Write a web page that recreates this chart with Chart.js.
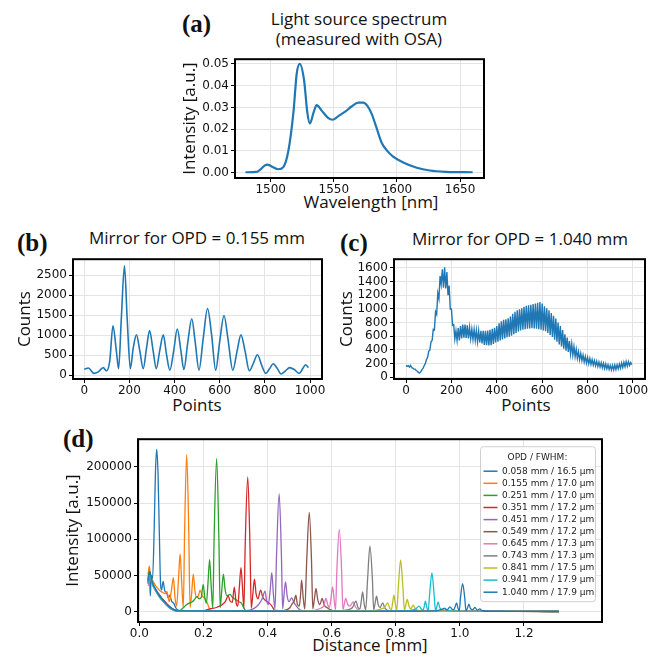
<!DOCTYPE html>
<html>
<head>
<meta charset="utf-8">
<script src="https://cdn.jsdelivr.net/npm/chart.js@4.4.0/dist/chart.umd.min.js"></script>
<style>
  body { margin: 0; background: #fff; width: 662px; height: 657px; position: relative; overflow: hidden; }
  canvas { position: absolute; }
  .tag { position: absolute; font: bold 25px "Liberation Serif"; line-height: 25px; color: #111; }
  .ttl { position: absolute; font: 17px "Open Sans"; line-height: 19.5px; color: #111; text-align: center; white-space: nowrap; }
</style>
</head>
<body>
<div class="tag" style="left:182px;top:11px">(a)</div>
<div class="ttl" style="left:259px;top:9px;width:200px">Light source spectrum<br>(measured with OSA)</div>
<div class="ttl" style="left:271px;top:192px;width:200px">Wavelength [nm]</div>

<div class="tag" style="left:17px;top:230px">(b)</div>
<div class="ttl" style="left:77px;top:228px;width:240px">Mirror for OPD = 0.155 mm</div>
<div class="ttl" style="left:147px;top:395px;width:100px">Points</div>

<div class="tag" style="left:340px;top:230px">(c)</div>
<div class="ttl" style="left:400px;top:229px;width:240px">Mirror for OPD = 1.040 mm</div>
<div class="ttl" style="left:476px;top:395px;width:100px">Points</div>

<div class="tag" style="left:63px;top:426px">(d)</div>
<div class="ttl" style="left:290px;top:635px;width:160px">Distance [mm]</div>

<canvas id="spec" width="340" height="170" style="left:150px;top:50px"></canvas>
<canvas id="mirrorB" width="330" height="170" style="left:0px;top:250px"></canvas>
<canvas id="mirrorC" width="325" height="170" style="left:330px;top:250px"></canvas>
<canvas id="fft" width="562" height="227" style="left:50px;top:430px"></canvas>

<script>
// (a) OSA spectrum
const wavelengthNm = [1480, 1489, 1497, 1506, 1510, 1514, 1518, 1520.6, 1523, 1526.4, 1529, 1531, 1534, 1536.4, 1540.4, 1545.7, 1549, 1553.6, 1559, 1564, 1569.4, 1573.4, 1576.6, 1580, 1584, 1588, 1592, 1597, 1605, 1615.7, 1626, 1639, 1660];
const osaIntensity = [0.0001, 0.0003, 0.0036, 0.0015, 0.0025, 0.010, 0.0277, 0.0455, 0.0500, 0.0426, 0.0277, 0.0226, 0.0277, 0.0310, 0.0285, 0.0250, 0.0243, 0.0260, 0.0280, 0.0304, 0.0322, 0.0322, 0.0307, 0.0270, 0.0203, 0.0136, 0.0102, 0.0073, 0.0046, 0.0022, 0.0009, 0.0003, 0.0001];
const specXTicks = [1500, 1550, 1600, 1650];
const specYTicks = [0, 0.01, 0.02, 0.03, 0.04, 0.05];

// (b) detector trace, OPD 0.155 mm
const bPoints = [0, 18, 43, 62, 84, 98, 113, 127, 142, 152, 164, 178, 190, 204, 217, 231, 246, 261, 276, 289, 305, 319, 334, 350, 364, 379, 396, 412, 428, 441, 459, 476, 491, 508, 527, 546, 564, 582, 600, 619, 636, 658, 677, 694, 712, 731, 748, 767, 786, 804, 821, 837, 855, 872, 891, 910, 930, 952, 968, 980, 993];
const bCounts = [145, 177, 40, 80, 185, 105, 363, 1233, 605, 160, 1410, 2740, 1410, 160, 685, 1007, 605, 160, 685, 1112, 605, 160, 605, 1007, 524, 121, 605, 1153, 605, 137, 846, 1410, 846, 121, 927, 1668, 1007, 121, 846, 1491, 927, 121, 605, 1007, 605, 105, 282, 508, 242, 40, 161, 282, 161, 24, 105, 185, 137, 40, 161, 258, 185];
const pointTicks = [0, 200, 400, 600, 800, 1000];
const bYTicks = [0, 500, 1000, 1500, 2000, 2500];

// (c) detector trace, OPD 1.040 mm, one sample every 5 points
const cStep = 5;
const cCounts = [
  175, 160, 170, 150, 175, 140, 135, 120, 120, 100, 90, 70, 65, 80, 110, 135, 170, 200, 260, 290,
  380, 400, 520, 540, 700, 690, 960, 920, 1230, 1150, 1480, 1360, 1580, 1310, 1610, 1300, 1540, 1200, 1340, 1000,
  1000, 760, 770, 560, 680, 540, 720, 540, 750, 570, 770, 580, 770, 575, 760, 570, 730, 565, 705, 555,
  700, 540, 690, 520, 680, 510, 680, 495, 680, 475, 680, 470, 685, 468, 695, 470, 710, 490, 725, 510,
  750, 520, 790, 540, 820, 555, 840, 570, 850, 585, 865, 595, 890, 610, 930, 630, 960, 650, 980, 670,
  995, 685, 1010, 695, 1030, 705, 1045, 710, 1055, 715, 1060, 720, 1070, 715, 1080, 710, 1090, 705, 1100, 695,
  1080, 685, 1040, 675, 1010, 650, 980, 620, 940, 590, 900, 550, 860, 520, 800, 480, 750, 450, 690, 420,
  630, 390, 580, 370, 530, 345, 490, 325, 450, 305, 410, 280, 375, 260, 350, 245, 325, 225, 305, 210,
  290, 200, 275, 190, 260, 180, 245, 170, 235, 160, 225, 150, 215, 140, 205, 130, 195, 125, 185, 115,
  175, 110, 175, 110, 180, 115, 185, 125, 195, 135, 210, 145, 220, 155, 230, 165, 230, 175, 215, 185
];
const cYTicks = [0, 200, 400, 600, 800, 1000, 1200, 1400, 1600];

// (d) FFT of each mirror position: [distance mm, intensity]
const trace058 = [[0.027,40000],[0.029,57000],[0.032,47000],[0.034,22000],[0.037,50000],[0.041,46000],[0.046,112000],[0.050,192000],[0.054,224000],[0.058,192000],[0.062,112000],[0.066,38000],[0.069,30000],[0.074,42000],[0.079,29000],[0.085,26000],[0.090,19000],[0.095,23000],[0.100,15000],[0.107,12000],[0.113,6000],[0.120,2500],[0.135,1200],[0.2,900],[0.35,700],[0.5,800],[0.7,600],[0.9,700],[1.1,600],[1.309,500]];
const trace155 = [[0.027,52000],[0.031,63000],[0.035,47000],[0.040,44000],[0.048,38000],[0.056,33000],[0.064,29000],[0.072,27000],[0.080,25000],[0.086,28000],[0.093,14000],[0.100,30000],[0.106,47000],[0.111,20000],[0.116,8000],[0.122,45000],[0.127,80000],[0.132,40000],[0.137,6000],[0.141,110000],[0.1475,217000],[0.154,110000],[0.158,6000],[0.163,25000],[0.168,52000],[0.173,30000],[0.178,20000],[0.184,22000],[0.189,30000],[0.196,22000],[0.205,18000],[0.212,12000],[0.218,5000],[0.225,1500],[0.3,900],[0.5,700],[0.7,800],[0.9,600],[1.1,700],[1.309,500]];
const trace251 = [[0.027,45000],[0.032,56000],[0.038,43000],[0.046,34000],[0.055,27000],[0.065,21000],[0.075,16000],[0.085,11000],[0.095,7000],[0.105,4000],[0.115,2000],[0.125,1500],[0.135,5000],[0.145,9000],[0.155,12000],[0.165,14000],[0.172,17000],[0.179,21000],[0.186,18000],[0.193,20000],[0.199,38000],[0.204,20000],[0.209,12000],[0.214,40000],[0.219,72000],[0.224,35000],[0.229,5000],[0.233,100000],[0.241,211500],[0.248,100000],[0.252,6000],[0.257,30000],[0.262,52000],[0.267,32000],[0.273,22000],[0.283,24000],[0.290,20000],[0.300,17000],[0.310,14000],[0.318,12000],[0.325,6000],[0.332,1500],[0.4,900],[0.6,700],[0.8,600],[1.0,700],[1.309,500]];
const trace351 = [[0.027,42000],[0.033,52000],[0.040,40000],[0.050,31000],[0.060,25000],[0.070,19000],[0.080,14000],[0.090,9000],[0.100,5000],[0.110,2500],[0.125,1200],[0.2,1500],[0.22,4000],[0.24,6000],[0.255,9000],[0.268,14000],[0.277,22000],[0.283,15000],[0.290,13000],[0.296,34000],[0.302,12000],[0.307,8000],[0.312,35000],[0.317,61000],[0.322,30000],[0.326,5000],[0.330,90000],[0.338,186000],[0.345,90000],[0.349,5000],[0.354,25000],[0.359,45000],[0.364,25000],[0.370,18000],[0.378,30000],[0.385,20000],[0.395,15000],[0.405,12000],[0.415,7000],[0.422,2000],[0.5,900],[0.7,700],[0.9,600],[1.1,700],[1.309,500]];
const trace451 = [[0.027,38000],[0.034,48000],[0.042,37000],[0.052,29000],[0.062,22000],[0.072,17000],[0.082,12000],[0.092,8000],[0.102,4500],[0.112,2000],[0.13,1000],[0.25,800],[0.33,1500],[0.35,3000],[0.365,7000],[0.375,12000],[0.383,18000],[0.392,28500],[0.397,15000],[0.402,10000],[0.408,30000],[0.413,54000],[0.418,25000],[0.423,4000],[0.428,80000],[0.436,163000],[0.443,80000],[0.447,4000],[0.451,22000],[0.456,41400],[0.461,22000],[0.467,14000],[0.475,19300],[0.483,12000],[0.490,8000],[0.500,3000],[0.512,1200],[0.7,700],[0.9,600],[1.1,700],[1.309,500]];
const trace549 = [[0.027,40000],[0.035,46000],[0.045,35000],[0.055,27000],[0.065,21000],[0.075,15000],[0.085,10000],[0.095,6000],[0.105,3000],[0.118,1200],[0.3,800],[0.44,1000],[0.46,3000],[0.47,6000],[0.478,12000],[0.483,15000],[0.488,23000],[0.493,10000],[0.499,8000],[0.503,25000],[0.506,43700],[0.511,20000],[0.516,4000],[0.522,70000],[0.530,137000],[0.537,70000],[0.541,4000],[0.546,18000],[0.551,32200],[0.556,18000],[0.563,10000],[0.570,18400],[0.577,9000],[0.585,6000],[0.595,3000],[0.61,1200],[0.8,700],[1.0,600],[1.309,500]];
const trace645 = [[0.027,36000],[0.035,44000],[0.045,34000],[0.055,26000],[0.065,20000],[0.075,14000],[0.085,9000],[0.095,5500],[0.105,2800],[0.12,1200],[0.35,800],[0.53,1200],[0.55,2500],[0.565,5000],[0.575,8000],[0.582,18400],[0.588,9000],[0.593,6000],[0.598,20000],[0.603,34500],[0.608,15000],[0.612,3000],[0.616,56000],[0.6236,113600],[0.631,56000],[0.635,3000],[0.639,10000],[0.644,18400],[0.650,10000],[0.657,8000],[0.667,13800],[0.675,6000],[0.685,2500],[0.70,1200],[0.9,700],[1.1,600],[1.309,500]];
const trace743 = [[0.027,39000],[0.034,45000],[0.043,35000],[0.053,27000],[0.063,20000],[0.073,15000],[0.083,10000],[0.093,6000],[0.103,3200],[0.115,1500],[0.3,800],[0.5,700],[0.62,1000],[0.64,2000],[0.655,3500],[0.665,6000],[0.6756,14700],[0.682,6000],[0.688,4000],[0.692,14000],[0.6965,27600],[0.701,12000],[0.706,2500],[0.712,45000],[0.7193,90600],[0.727,45000],[0.731,2500],[0.735,11000],[0.740,21600],[0.745,10000],[0.751,6000],[0.759,12400],[0.766,5000],[0.775,2000],[0.79,1000],[1.0,700],[1.309,500]];
const trace841 = [[0.027,44000],[0.033,50000],[0.041,39000],[0.051,30000],[0.061,23000],[0.071,17000],[0.081,11000],[0.091,7000],[0.101,3500],[0.113,1500],[0.3,700],[0.55,800],[0.72,1000],[0.74,2500],[0.755,4000],[0.765,6000],[0.7745,12400],[0.781,5000],[0.786,3000],[0.790,12000],[0.794,23000],[0.799,10000],[0.803,2000],[0.808,35000],[0.815,71300],[0.822,35000],[0.827,2000],[0.831,9000],[0.8357,17000],[0.841,8000],[0.847,4000],[0.854,9200],[0.862,4000],[0.870,2000],[0.89,1000],[1.1,600],[1.309,500]];
const trace941 = [[0.027,41000],[0.033,49000],[0.041,38000],[0.051,29000],[0.061,22000],[0.071,16000],[0.081,11000],[0.091,6500],[0.101,3300],[0.113,1400],[0.35,800],[0.6,700],[0.83,1000],[0.85,2500],[0.862,4000],[0.873,7800],[0.880,3500],[0.885,2500],[0.889,8000],[0.892,14700],[0.897,6000],[0.901,1500],[0.906,27000],[0.9127,53800],[0.919,27000],[0.924,1500],[0.928,7000],[0.932,13800],[0.937,6000],[0.943,3000],[0.952,5000],[0.96,2500],[0.975,1000],[1.1,600],[1.309,500]];
const trace1040 = [[0.027,43000],[0.032,55000],[0.040,41000],[0.050,32000],[0.060,24000],[0.070,18000],[0.080,13000],[0.090,8500],[0.100,5000],[0.110,2500],[0.125,1200],[0.4,800],[0.7,700],[0.92,1200],[0.94,3000],[0.952,4500],[0.96,2500],[0.969,6900],[0.976,3500],[0.981,3000],[0.985,7000],[0.9897,12400],[0.994,5000],[0.998,1500],[1.002,20000],[1.0084,39000],[1.015,20000],[1.019,1500],[1.024,5500],[1.028,10600],[1.033,4500],[1.040,3000],[1.047,6000],[1.054,2500],[1.062,4000],[1.07,1500],[1.09,800],[1.2,700],[1.309,600]];
const opdTraces = [trace058, trace155, trace251, trace351, trace451, trace549, trace645, trace743, trace841, trace941, trace1040];
const opdLabels = ['0.058 mm / 16.5 μm', '0.155 mm / 17.0 μm', '0.251 mm / 17.0 μm', '0.351 mm / 17.2 μm', '0.451 mm / 17.2 μm', '0.549 mm / 17.2 μm', '0.645 mm / 17.3 μm', '0.743 mm / 17.3 μm', '0.841 mm / 17.5 μm', '0.941 mm / 17.9 μm', '1.040 mm / 17.9 μm'];
const opdColors = ['#1f77b4', '#ff7f0e', '#2ca02c', '#d62728', '#9467bd', '#8c564b', '#e377c2', '#7f7f7f', '#bcbd22', '#17becf', '#1f77b4'];
const distTicks = [0, 0.2, 0.4, 0.6, 0.8, 1.0, 1.2];
const fftYTicks = [0, 50000, 100000, 150000, 200000];
const legendTitle = 'OPD / FWHM:';

Chart.defaults.font.family = '"DejaVu Sans"';
Chart.defaults.font.size = 12;
Chart.defaults.color = '#111';
Chart.defaults.elements.point.radius = 0;

// black box around each plot area
const frame = {
  id: 'frame',
  afterDatasetsDraw(chart) {
    const { ctx, chartArea: a } = chart;
    ctx.save();
    ctx.strokeStyle = '#000';
    ctx.lineWidth = 2;
    ctx.strokeRect(a.left, a.top, a.right - a.left, a.bottom - a.top);
    ctx.restore();
  }
};

// boxed legend in the top right corner of (d)
const opdLegend = {
  id: 'opdLegend',
  afterDraw(chart) {
    const { ctx, chartArea: a } = chart;
    const w = 115, h = 155;
    const x0 = a.right - 7 - w, y0 = a.top + 7;
    ctx.save();
    ctx.fillStyle = 'rgba(255,255,255,0.85)';
    ctx.strokeStyle = '#d0d0d0';
    ctx.lineWidth = 1;
    ctx.beginPath();
    ctx.roundRect(x0 + 0.5, y0 + 0.5, w, h, 3);
    ctx.fill();
    ctx.stroke();
    ctx.font = '9px "DejaVu Sans"';
    ctx.fillStyle = '#222';
    ctx.textBaseline = 'middle';
    ctx.textAlign = 'center';
    ctx.fillText(legendTitle, x0 + w / 2, y0 + 11);
    ctx.textAlign = 'left';
    chart.data.datasets.forEach((ds, i) => {
      const y = y0 + 25 + i * 12.1;
      ctx.strokeStyle = ds.borderColor;
      ctx.lineWidth = 1.5;
      ctx.beginPath();
      ctx.moveTo(x0 + 3.5, y);
      ctx.lineTo(x0 + 17.5, y);
      ctx.stroke();
      ctx.fillText(ds.label, x0 + 22, y);
    });
    ctx.restore();
  }
};

function xAxis(min, max, ticks, fmt, height) {
  return {
    type: 'linear', min: min, max: max,
    afterBuildTicks: s => { s.ticks = ticks.map(v => ({ value: v })); },
    afterFit: s => { s.height = height; },
    ticks: { callback: fmt, maxRotation: 0, autoSkip: false, padding: 1 },
    grid: { color: '#e4e4e4', tickColor: '#000', tickLength: 4 },
    border: { display: false }
  };
}

function yAxis(min, max, ticks, fmt, width, title, titlePad) {
  return {
    type: 'linear', min: min, max: max,
    afterBuildTicks: s => { s.ticks = ticks.map(v => ({ value: v })); },
    afterFit: s => { s.width = width; },
    ticks: { callback: fmt, autoSkip: false, padding: 2 },
    grid: { color: '#e4e4e4', tickColor: '#000', tickLength: 4 },
    border: { display: false },
    title: { display: true, text: title, color: '#111', font: { family: '"Open Sans"', size: 17 }, padding: { top: titlePad, bottom: 0 } }
  };
}

function baseOptions(padding) {
  return {
    responsive: false, animation: false, devicePixelRatio: 1,
    layout: { padding: padding },
    plugins: { legend: { display: false }, tooltip: { enabled: false } }
  };
}

const plain = v => String(v);

// (a)
new Chart(document.getElementById('spec'), {
  type: 'line',
  data: {
    datasets: [{
      data: wavelengthNm.map((w, i) => ({ x: w, y: osaIntensity[i] })),
      borderColor: '#1f77b4', borderWidth: 2.2, cubicInterpolationMode: 'monotone'
    }]
  },
  options: Object.assign(baseOptions({ top: 5, right: 6, left: 0, bottom: 0 }), {
    scales: {
      x: xAxis(1471.7, 1669, specXTicks, plain, 42),
      y: yAxis(-0.00254, 0.0522, specYTicks, v => v.toFixed(2), 85, 'Intensity [a.u.]', 30)
    }
  }),
  plugins: [frame]
});

// (b)
new Chart(document.getElementById('mirrorB'), {
  type: 'line',
  data: {
    datasets: [{
      data: bPoints.map((p, i) => ({ x: p, y: bCounts[i] })),
      borderColor: '#1f77b4', borderWidth: 1.6, cubicInterpolationMode: 'monotone'
    }]
  },
  options: Object.assign(baseOptions({ top: 5, right: 8, left: 0, bottom: 0 }), {
    scales: {
      x: xAxis(-50, 1053, pointTicks, plain, 41),
      y: yAxis(-100, 2904, bYTicks, plain, 73, 'Counts', 15)
    }
  }),
  plugins: [frame]
});

// (c)
new Chart(document.getElementById('mirrorC'), {
  type: 'line',
  data: {
    datasets: [{
      data: cCounts.map((c, i) => ({ x: i * cStep, y: c })),
      borderColor: '#1f77b4', borderWidth: 1.4
    }]
  },
  options: Object.assign(baseOptions({ top: 5, right: 10, left: 0, bottom: 0 }), {
    scales: {
      x: xAxis(-53, 1053, pointTicks, plain, 41),
      y: yAxis(-24, 1727, cYTicks, plain, 64, 'Counts', 7)
    }
  }),
  plugins: [frame]
});

// (d)
new Chart(document.getElementById('fft'), {
  type: 'line',
  data: {
    datasets: opdTraces.map((tr, i) => ({
      label: opdLabels[i],
      data: tr.map(p => ({ x: p[0], y: p[1] })),
      borderColor: opdColors[i], borderWidth: 1.3,
      cubicInterpolationMode: 'monotone',
      order: opdTraces.length - i
    }))
  },
  options: Object.assign(baseOptions({ top: 9, right: 10, left: 0, bottom: 0 }), {
    scales: {
      x: xAxis(-0.0044, 1.4434, distTicks, v => v.toFixed(1), 35),
      y: yAxis(-14000, 238000, fftYTicks, plain, 88, 'Intensity [a.u.]', 13)
    }
  }),
  plugins: [frame, opdLegend]
});
</script>
</body>
</html>
